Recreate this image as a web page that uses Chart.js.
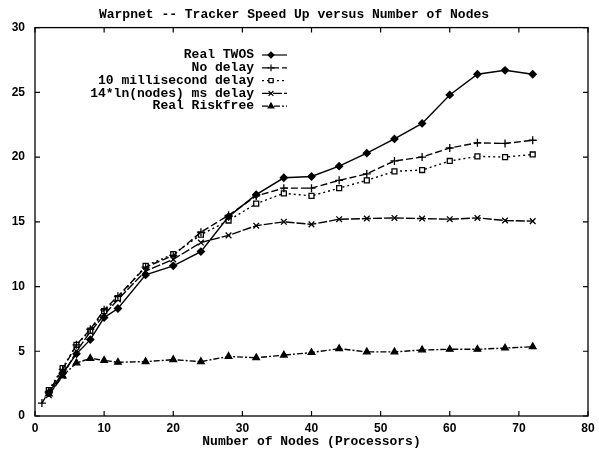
<!DOCTYPE html>
<html>
<head>
<meta charset="utf-8">
<script src="https://cdn.jsdelivr.net/npm/chart.js@4.4.1/dist/chart.umd.min.js"></script>
<style>
  html, body { margin: 0; padding: 0; background: #fff; }
  #wrap { width: 599px; height: 450px; }
</style>
</head>
<body>
<div id="wrap"><canvas id="chart" width="599" height="450"></canvas></div>
<script>
// nodes (processors)
const nodes = [2, 4, 6, 8, 10, 12, 16, 20, 24, 28, 32, 36, 40, 44, 48, 52, 56, 60, 64, 68, 72];
const noDelayNodes = [1].concat(nodes);

const realTwos   = [1.8, 3.3, 4.8, 5.9, 7.6, 8.3, 10.9, 11.6, 12.7, 15.4, 17.1, 18.4, 18.5, 19.3, 20.3, 21.4, 22.6, 24.8, 26.4, 26.7, 26.4];
const noDelay    = [1.0, 1.9, 3.6, 5.5, 6.7, 8.2, 9.25, 11.5, 12.4, 14.2, 15.5, 17.0, 17.6, 17.6, 18.2, 18.7, 19.7, 20.0, 20.7, 21.1, 21.05, 21.3];
const tenMs      = [2.0, 3.7, 5.5, 6.6, 8.1, 9.1, 11.6, 12.5, 14.0, 15.1, 16.4, 17.2, 17.0, 17.6, 18.2, 18.9, 19.0, 19.7, 20.05, 20.0, 20.2];
const lnDelay    = [1.6, 3.1, 5.0, 6.5, 7.8, 9.0, 11.2, 12.1, 13.4, 13.95, 14.7, 15.0, 14.8, 15.2, 15.25, 15.3, 15.25, 15.2, 15.3, 15.1, 15.05];
const riskfree   = [1.7, 3.1, 4.1, 4.45, 4.3, 4.15, 4.2, 4.35, 4.2, 4.6, 4.5, 4.7, 4.9, 5.2, 4.95, 4.95, 5.1, 5.15, 5.15, 5.25, 5.35];

const seriesNames = ["Real TWOS", "No delay", "10 millisecond delay", "14*ln(nodes) ms delay", "Real Riskfree"];
const xTicks = [0, 10, 20, 30, 40, 50, 60, 70, 80];
const yTicks = [0, 5, 10, 15, 20, 25, 30];

const mono = "'Liberation Mono', 'DejaVu Sans Mono', monospace";
const sans = "'Liberation Sans', Arial, sans-serif";

const pairs = (xs, ys) => xs.map((x, i) => ({ x: x, y: ys[i] }));

const mk = (label, data, style, dash, radius, fill) => ({
  label: label,
  data: data,
  borderColor: "#000",
  borderWidth: 1.4,
  borderDash: dash,
  pointStyle: style,
  pointRadius: radius,
  pointHoverRadius: radius,
  pointBorderColor: "#000",
  pointBorderWidth: 1.3,
  pointBackgroundColor: fill,
  tension: 0,
  fill: false
});

const datasets = [
  mk(seriesNames[0], pairs(nodes, realTwos), "rectRot", [], 3.5, "#000"),
  mk(seriesNames[1], pairs(noDelayNodes, noDelay), "cross", [7, 3], 4, "#000"),
  mk(seriesNames[2], pairs(nodes, tenMs), "rect", [2, 3], 3.5, "#fff"),
  mk(seriesNames[3], pairs(nodes, lnDelay), "crossRot", [9, 2], 4, "#000"),
  mk(seriesNames[4], pairs(nodes, riskfree), "triangle", [6, 2, 2, 2], 3.8, "#000")
];

// frame, inward ticks, and the key
const framePlugin = {
  id: "frame",
  afterDatasetsDraw(chart) {
    const { ctx, chartArea: a, scales } = chart;
    ctx.save();
    ctx.strokeStyle = "#000";
    ctx.lineWidth = 1.3;
    ctx.setLineDash([]);
    ctx.strokeRect(a.left, a.top, a.right - a.left, a.bottom - a.top);
    ctx.lineWidth = 1.2;
    ctx.beginPath();
    xTicks.forEach((v) => {
      const px = scales.x.getPixelForValue(v);
      ctx.moveTo(px, a.bottom); ctx.lineTo(px, a.bottom - 5);
      ctx.moveTo(px, a.top); ctx.lineTo(px, a.top + 5);
    });
    yTicks.forEach((v) => {
      const py = scales.y.getPixelForValue(v);
      ctx.moveTo(a.left, py); ctx.lineTo(a.left + 5, py);
      ctx.moveTo(a.right, py); ctx.lineTo(a.right - 5, py);
    });
    ctx.stroke();

    // key
    ctx.font = "bold 13px " + mono;
    ctx.fillStyle = "#000";
    ctx.textAlign = "right";
    ctx.textBaseline = "middle";
    chart.data.datasets.forEach((ds, i) => {
      const y = 55 + i * 12.8;
      ctx.fillText(ds.label, 254, y);
      ctx.setLineDash(ds.borderDash);
      ctx.lineWidth = 1.2;
      ctx.beginPath();
      ctx.moveTo(262, y); ctx.lineTo(287, y);
      ctx.stroke();
      ctx.setLineDash([]);
      ctx.fillStyle = ds.pointBackgroundColor;
      ctx.lineWidth = 1.2;
      Chart.helpers.drawPoint(ctx, {
        pointStyle: ds.pointStyle,
        radius: ds.pointRadius * 0.85,
        borderWidth: 1.2,
        rotation: 0
      }, 271, y);
      ctx.fillStyle = "#000";
    });
    ctx.restore();
  }
};

new Chart(document.getElementById("chart"), {
  type: "line",
  data: { datasets: datasets },
  options: {
    responsive: false,
    animation: false,
    layout: { padding: { left: 0, right: 11, top: 0, bottom: 0 } },
    plugins: {
      legend: { display: false },
      tooltip: { enabled: false },
      title: {
        display: true,
        text: "Warpnet -- Tracker Speed Up versus Number of Nodes",
        color: "#000",
        font: { family: mono, size: 13, weight: "bold" },
        padding: { top: 7, bottom: 5 }
      }
    },
    scales: {
      x: {
        type: "linear",
        min: 0,
        max: 80,
        afterBuildTicks: (s) => { s.ticks = xTicks.map((v) => ({ value: v })); },
        afterFit: (s) => { s.height = 34; },
        grid: { display: false, tickLength: 4 },
        border: { display: false },
        ticks: { color: "#000", font: { family: sans, size: 12, weight: "bold" }, padding: 1, maxRotation: 0 },
        title: {
          display: true,
          text: "Number of Nodes (Processors)",
          color: "#000",
          font: { family: mono, size: 13, weight: "bold" },
          padding: { top: 0, bottom: 0 }
        }
      },
      y: {
        min: 0,
        max: 30,
        afterBuildTicks: (s) => { s.ticks = yTicks.map((v) => ({ value: v })); },
        afterFit: (s) => { s.width = 35; },
        grid: { display: false, tickLength: 4 },
        border: { display: false },
        ticks: { color: "#000", font: { family: sans, size: 12, weight: "bold" }, padding: 6 }
      }
    }
  },
  plugins: [framePlugin]
});
</script>
</body>
</html>
